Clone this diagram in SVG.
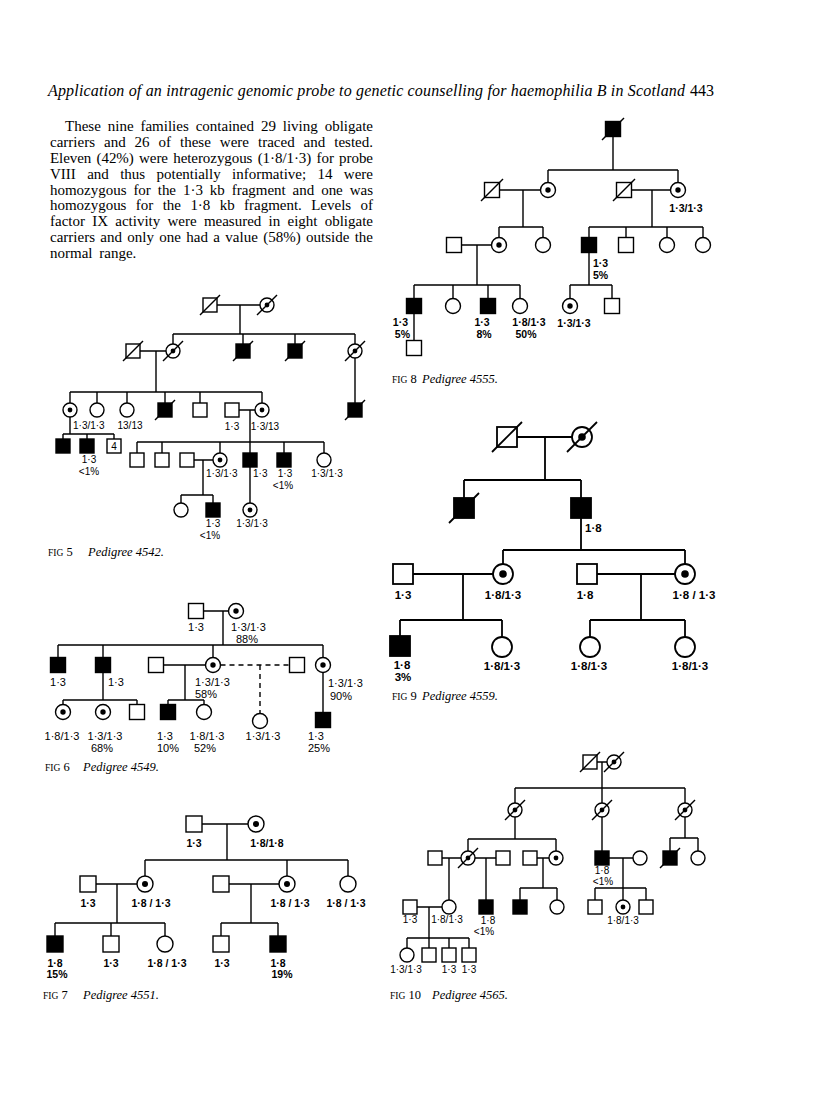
<svg xmlns="http://www.w3.org/2000/svg" width="816" height="1110" viewBox="0 0 816 1110">
<defs>
<style>
.l{stroke:#000;stroke-width:1.4;fill:none}
.l2{stroke:#000;stroke-width:1.8;fill:none}
.d{stroke-dasharray:5 4}
.o{fill:#fff;stroke:#000;stroke-width:1.4}
.f{fill:#000;stroke:#000;stroke-width:1.4}
.o2{fill:#fff;stroke:#000;stroke-width:1.8}
.f2{fill:#000;stroke:#000;stroke-width:1.8}
.k{fill:#000}
.a{font-family:"Liberation Sans",Arial,sans-serif;font-size:10px;fill:#000}
.b{font-family:"Liberation Sans",Arial,sans-serif;font-size:11px;fill:#000}
.c{font-family:"Liberation Sans",Arial,sans-serif;font-size:10.5px;font-weight:bold;fill:#000}
.c9{font-family:"Liberation Sans",Arial,sans-serif;font-size:11.5px;font-weight:bold;fill:#000}
.m{text-anchor:middle}
.e{text-anchor:end}
.body{font-family:"Liberation Serif","Times New Roman",serif;font-size:15px;fill:#000}
.hd{font-family:"Liberation Serif","Times New Roman",serif;font-size:16px;fill:#000}
.it{font-style:italic}
.cap{font-family:"Liberation Serif","Times New Roman",serif;font-size:12.5px;fill:#000}
.sc{font-size:9.5px}
</style>
<rect id="q7" x="-7" y="-7" width="14" height="14" class="o"/>
<rect id="Q7" x="-7" y="-7" width="14" height="14" class="f"/>
<circle id="c7" r="7" class="o"/>
<g id="k7"><circle r="7" class="o"/><circle r="2.4" class="k"/></g>
<line id="x7" x1="-10" y1="10" x2="10" y2="-10" class="l"/>
<rect id="q75" x="-7.5" y="-7.5" width="15" height="15" class="o"/>
<rect id="Q75" x="-7.5" y="-7.5" width="15" height="15" class="f"/>
<circle id="c75" r="7.5" class="o"/>
<g id="k75"><circle r="7.5" class="o"/><circle r="2.7" class="k"/></g>
<line id="x75" x1="-11" y1="11" x2="11" y2="-11" class="l"/>
<rect id="q8" x="-8" y="-8" width="16" height="16" class="o"/>
<rect id="Q8" x="-8" y="-8" width="16" height="16" class="f"/>
<circle id="c8" r="8" class="o"/>
<g id="k8"><circle r="8" class="o"/><circle r="3" class="k"/></g>
<rect id="q10" x="-10" y="-10" width="20" height="20" class="o2"/>
<rect id="Q10" x="-10" y="-10" width="20" height="20" class="f2"/>
<circle id="c10" r="10" class="o2"/>
<g id="k10"><circle r="10" class="o2"/><circle r="3.8" class="k"/></g>
<line id="x10" x1="-15" y1="15" x2="15" y2="-15" class="l2"/>
</defs>
<rect width="816" height="1110" fill="#fff"/>

<g id="header">
<text class="hd it" x="48" y="96" textLength="637" lengthAdjust="spacing">Application of an intragenic genomic probe to genetic counselling for haemophilia B in Scotland</text>
<text class="hd" x="690" y="96">443</text>
</g>

<g id="body-text" class="body">
<text x="65" y="131" word-spacing="3.1" textLength="308" lengthAdjust="spacing">These nine families contained 29 living obligate</text>
<text x="50" y="147" word-spacing="5.2" textLength="323" lengthAdjust="spacing">carriers and 26 of these were traced and tested.</text>
<text x="50" y="163" word-spacing="1.6" textLength="323" lengthAdjust="spacing">Eleven (42%) were heterozygous (1·8/1·3) for probe</text>
<text x="50" y="179" word-spacing="7.6" textLength="323" lengthAdjust="spacing">VIII and thus potentially informative; 14 were</text>
<text x="50" y="194.5" word-spacing="3.2" textLength="323" lengthAdjust="spacing">homozygous for the 1·3 kb fragment and one was</text>
<text x="50" y="210" word-spacing="5.7" textLength="323" lengthAdjust="spacing">homozygous for the 1·8 kb fragment. Levels of</text>
<text x="50" y="226" word-spacing="3.5" textLength="323" lengthAdjust="spacing">factor IX activity were measured in eight obligate</text>
<text x="50" y="242" word-spacing="1.6" textLength="323" lengthAdjust="spacing">carriers and only one had a value (58%) outside the</text>
<text x="50" y="258" word-spacing="3">normal range.</text>
</g>

<!-- FIG 5 -->
<g id="fig5">
<g id="fig5-links">
<path class="l" d="M217,305H260 M240,305V334 M173,334H355 M173,334V344 M243,334V344 M295,334V344 M355,334V344 M140,351H166 M156,351V392 M70,392H262 M70,392V403 M97,392V403 M127,392V403 M165,392V403 M200,392V403 M262,392V403 M355,358V403 M70,417V434 M63,434H114 M63,434V439 M87,434V439 M114,434V439 M239,410H255 M250,410V453 M137,442H324 M137,442V453 M162,442V453 M220,442V453 M284,442V453 M324,442V453 M194,460H213 M203,460V495 M181,495H213 M181,495V503 M213,495V503 M250,467V503"/>
</g>
<g id="f5-n1"><use href="#q7" x="210" y="305"/><use href="#x7" x="210" y="305"/></g>
<g id="f5-n2"><use href="#k7" x="267" y="305"/><use href="#x7" x="267" y="305"/></g>
<g id="f5-n3"><use href="#q7" x="133" y="351"/><use href="#x7" x="133" y="351"/></g>
<g id="f5-n4"><use href="#k7" x="173" y="351"/><use href="#x7" x="173" y="351"/></g>
<g id="f5-n5"><use href="#Q7" x="243" y="351"/><use href="#x7" x="243" y="351"/></g>
<g id="f5-n6"><use href="#Q7" x="295" y="351"/><use href="#x7" x="295" y="351"/></g>
<g id="f5-n7"><use href="#k7" x="355" y="351"/><use href="#x7" x="355" y="351"/></g>
<g id="f5-n8"><use href="#k7" x="70" y="410"/><text class="a" x="73" y="429">1·3/1·3</text></g>
<g id="f5-n9"><use href="#c7" x="97" y="410"/></g>
<g id="f5-n10"><use href="#c7" x="127" y="410"/><text class="a m" x="130" y="429">13/13</text></g>
<g id="f5-n11"><use href="#Q7" x="165" y="410"/><use href="#x7" x="165" y="410"/></g>
<g id="f5-n12"><use href="#q7" x="200" y="410"/></g>
<g id="f5-n13"><use href="#q7" x="232" y="410"/><text class="a m" x="232" y="430">1·3</text></g>
<g id="f5-n14"><use href="#k7" x="262" y="410"/><text class="a m" x="265" y="430">1·3/13</text></g>
<g id="f5-n15"><use href="#Q7" x="355" y="410"/><use href="#x7" x="355" y="410"/></g>
<g id="f5-n16"><use href="#Q7" x="63" y="446"/></g>
<g id="f5-n17"><use href="#Q7" x="87" y="446"/><text class="a m" x="89" y="463">1·3</text><text class="a m" x="89" y="475">&lt;1%</text></g>
<g id="f5-n18"><use href="#q7" x="114" y="446"/><text class="a m" x="114" y="449.5" font-size="9">4</text></g>
<g id="f5-n19"><use href="#q7" x="137" y="460"/></g>
<g id="f5-n20"><use href="#q7" x="162" y="460"/></g>
<g id="f5-n21"><use href="#q7" x="187" y="460"/></g>
<g id="f5-n22"><use href="#k7" x="220" y="460"/><text class="a" x="206" y="477">1·3/1·3</text></g>
<g id="f5-n23"><use href="#Q7" x="250" y="460"/><text class="a" x="253" y="477">1·3</text></g>
<g id="f5-n24"><use href="#Q7" x="284" y="460"/><text class="a m" x="285" y="477">1·3</text><text class="a m" x="283" y="489">&lt;1%</text></g>
<g id="f5-n25"><use href="#c7" x="324" y="460"/><text class="a m" x="327" y="477">1·3/1·3</text></g>
<g id="f5-n26"><use href="#c7" x="181" y="510"/></g>
<g id="f5-n27"><use href="#Q7" x="213" y="510"/><text class="a m" x="213" y="527">1·3</text><text class="a m" x="210" y="539">&lt;1%</text></g>
<g id="f5-n28"><use href="#k7" x="250" y="510"/><text class="a m" x="252" y="527">1·3/1·3</text></g>
<g id="f5-caption"><text class="cap" x="48" y="556"><tspan class="sc">FIG</tspan> 5</text><text class="cap it" x="88" y="556">Pedigree 4542.</text></g>
</g>

<!-- FIG 6 -->
<g id="fig6">
<g id="fig6-links">
<path class="l" d="M203.5,611H228.5 M223,611V645 M58,645H323 M58,645V657.5 M103,645V657.5 M213,645V657.5 M323,645V657.5 M103,672.5V700 M63,700H137 M63,700V704.5 M137,700V704.5 M163.5,665H205.5 M185,665V700 M168,700H204 M168,700V704.5 M204,700V704.5 M323,672.5V712.5"/>
<path class="l d" d="M220.5,665H289.5 M260,665V713.5"/>
</g>
<g id="f6-n1"><use href="#q75" x="196" y="611"/><text class="b m" x="196" y="631">1·3</text></g>
<g id="f6-n2"><use href="#k75" x="236" y="611"/><text class="b" x="231" y="631">1·3/1·3</text><text class="b" x="236" y="643">88%</text></g>
<g id="f6-n3"><use href="#Q75" x="58" y="665"/><text class="b m" x="58" y="686">1·3</text></g>
<g id="f6-n4"><use href="#Q75" x="103" y="665"/><text class="b" x="108" y="686">1·3</text></g>
<g id="f6-n5"><use href="#q75" x="156" y="665"/></g>
<g id="f6-n6"><use href="#k75" x="213" y="665"/><text class="b" x="195" y="686">1·3/1·3</text><text class="b" x="195" y="698">58%</text></g>
<g id="f6-n7"><use href="#q75" x="297" y="665"/></g>
<g id="f6-n8"><use href="#k75" x="323" y="665"/><text class="b" x="328" y="687">1·3/1·3</text><text class="b" x="330" y="700">90%</text></g>
<g id="f6-n9"><use href="#k75" x="63" y="712"/><text class="b m" x="62" y="740">1·8/1·3</text></g>
<g id="f6-n10"><use href="#k75" x="103" y="712"/><text class="b m" x="105" y="740">1·3/1·3</text><text class="b m" x="102" y="752">68%</text></g>
<g id="f6-n11"><use href="#q75" x="137" y="712"/></g>
<g id="f6-n12"><use href="#Q75" x="168" y="712"/><text class="b" x="157" y="740">1·3</text><text class="b" x="157" y="752">10%</text></g>
<g id="f6-n13"><use href="#c75" x="204" y="712"/><text class="b m" x="207" y="740">1·8/1·3</text><text class="b m" x="205" y="752">52%</text></g>
<g id="f6-n14"><use href="#c75" x="260" y="721"/><text class="b m" x="263" y="740">1·3/1·3</text></g>
<g id="f6-n15"><use href="#Q75" x="323" y="720"/><text class="b" x="308" y="740">1·3</text><text class="b" x="308" y="752">25%</text></g>
<g id="f6-caption"><text class="cap" x="45" y="771"><tspan class="sc">FIG</tspan> 6</text><text class="cap it" x="83" y="771">Pedigree 4549.</text></g>
</g>

<!-- FIG 7 -->
<g id="fig7">
<g id="fig7-links">
<path class="l" d="M202,824H248 M227,824V860 M145,860H348 M145,860V876 M287,860V876 M348,860V876 M96,884H137 M117,884V923 M55,923H165 M55,923V936 M111,923V936 M165,923V936 M229,884H279 M251,884V923 M221,923H278 M221,923V936 M278,923V936"/>
</g>
<g id="f7-n1"><use href="#q8" x="194" y="824"/><text class="c m" x="194" y="847">1·3</text></g>
<g id="f7-n2"><use href="#k8" x="256" y="824"/><text class="c m" x="267" y="847">1·8/1·8</text></g>
<g id="f7-n3"><use href="#q8" x="88" y="884"/><text class="c m" x="88" y="907">1·3</text></g>
<g id="f7-n4"><use href="#k8" x="145" y="884"/><text class="c m" x="151" y="907">1·8 / 1·3</text></g>
<g id="f7-n5"><use href="#q8" x="221" y="884"/></g>
<g id="f7-n6"><use href="#k8" x="287" y="884"/><text class="c m" x="290" y="907">1·8 / 1·3</text></g>
<g id="f7-n7"><use href="#c8" x="348" y="884"/><text class="c m" x="346" y="907">1·8 / 1·3</text></g>
<g id="f7-n8"><use href="#Q8" x="55" y="944"/><text class="c m" x="55" y="967">1·8</text><text class="c m" x="57" y="978">15%</text></g>
<g id="f7-n9"><use href="#q8" x="111" y="944"/><text class="c m" x="111" y="967">1·3</text></g>
<g id="f7-n10"><use href="#c8" x="165" y="944"/><text class="c m" x="167" y="967">1·8 / 1·3</text></g>
<g id="f7-n11"><use href="#q8" x="221" y="944"/><text class="c m" x="222" y="967">1·3</text></g>
<g id="f7-n12"><use href="#Q8" x="278" y="944"/><text class="c m" x="278" y="967">1·8</text><text class="c m" x="282" y="978">19%</text></g>
<g id="f7-caption"><text class="cap" x="43" y="999"><tspan class="sc">FIG</tspan> 7</text><text class="cap it" x="83" y="999">Pedigree 4551.</text></g>
</g>

<!-- FIG 8 -->
<g id="fig8">
<g id="fig8-links">
<path class="l" d="M613,136.5V170 M548,170H678 M548,170V182.5 M678,170V182.5 M499.5,190H540.5 M523,190V227 M499,227H543 M499,227V237.5 M543,227V237.5 M631.5,190H670.5 M652,190V227 M589,227H703 M589,227V237.5 M626,227V237.5 M667,227V237.5 M703,227V237.5 M461.5,245H491.5 M477,245V285 M414,285H520 M414,285V298.5 M453,285V298.5 M488,285V298.5 M520,285V298.5 M589,252.5V285 M570,285H612 M570,285V298.5 M612,285V298.5 M414,313.5V340.5"/>
</g>
<g id="f8-n1"><use href="#Q75" x="613" y="129"/><use href="#x75" x="613" y="129"/></g>
<g id="f8-n2"><use href="#q75" x="492" y="190"/><use href="#x75" x="492" y="190"/></g>
<g id="f8-n3"><use href="#k75" x="548" y="190"/></g>
<g id="f8-n4"><use href="#q75" x="624" y="190"/><use href="#x75" x="624" y="190"/></g>
<g id="f8-n5"><use href="#k75" x="678" y="190"/><text class="c m" x="686" y="212">1·3/1·3</text></g>
<g id="f8-n6"><use href="#q75" x="454" y="245"/></g>
<g id="f8-n7"><use href="#k75" x="499" y="245"/></g>
<g id="f8-n8"><use href="#c75" x="543" y="245"/></g>
<g id="f8-n9"><use href="#Q75" x="589" y="245"/><text class="c" x="593" y="267">1·3</text><text class="c" x="593" y="279">5%</text></g>
<g id="f8-n10"><use href="#q75" x="626" y="245"/></g>
<g id="f8-n11"><use href="#c75" x="667" y="245"/></g>
<g id="f8-n12"><use href="#c75" x="703" y="245"/></g>
<g id="f8-n13"><use href="#Q75" x="414" y="306"/><text class="c e" x="408" y="326">1·3</text><text class="c e" x="410" y="338">5%</text></g>
<g id="f8-n14"><use href="#c75" x="453" y="306"/></g>
<g id="f8-n15"><use href="#Q75" x="488" y="306"/><text class="c m" x="482" y="326">1·3</text><text class="c m" x="484" y="338">8%</text></g>
<g id="f8-n16"><use href="#c75" x="520" y="306"/><text class="c m" x="529" y="326">1·8/1·3</text><text class="c m" x="526" y="338">50%</text></g>
<g id="f8-n17"><use href="#k75" x="570" y="306"/><text class="c m" x="574" y="327">1·3/1·3</text></g>
<g id="f8-n18"><use href="#q75" x="612" y="306"/></g>
<g id="f8-n19"><use href="#q75" x="414" y="348"/></g>
<g id="f8-caption"><text class="cap" x="392" y="383"><tspan class="sc">FIG</tspan> 8</text><text class="cap it" x="422" y="383">Pedigree 4555.</text></g>
</g>

<!-- FIG 9 -->
<g id="fig9">
<g id="fig9-links">
<path class="l2" d="M517,437H572 M545,437V480 M464,480H581 M464,480V498 M581,480V498 M581,518V550 M503,550H685 M503,550V564 M685,550V564 M413,574H493 M463,574V620 M400,620H502 M400,620V636 M502,620V637 M597,574H675 M641,574V620 M590,620H685 M590,620V637 M685,620V637"/>
</g>
<g id="f9-n1"><use href="#q10" x="507" y="437"/><use href="#x10" x="507" y="437"/></g>
<g id="f9-n2"><use href="#k10" x="582" y="437"/><use href="#x10" x="582" y="437"/></g>
<g id="f9-n3"><use href="#Q10" x="464" y="508"/><use href="#x10" x="464" y="508"/></g>
<g id="f9-n4"><use href="#Q10" x="581" y="508"/><text class="c9" x="585" y="532">1·8</text></g>
<g id="f9-n5"><use href="#q10" x="403" y="574"/><text class="c9 m" x="403" y="599">1·3</text></g>
<g id="f9-n6"><use href="#k10" x="503" y="574"/><text class="c9 m" x="503" y="599">1·8/1·3</text></g>
<g id="f9-n7"><use href="#q10" x="587" y="574"/><text class="c9 m" x="585" y="599">1·8</text></g>
<g id="f9-n8"><use href="#k10" x="685" y="574"/><text class="c9 m" x="694" y="599">1·8 / 1·3</text></g>
<g id="f9-n9"><use href="#Q10" x="400" y="646"/><text class="c9 m" x="402" y="669">1·8</text><text class="c9 m" x="403" y="681">3%</text></g>
<g id="f9-n10"><use href="#c10" x="502" y="647"/><text class="c9 m" x="502" y="670">1·8/1·3</text></g>
<g id="f9-n11"><use href="#c10" x="590" y="647"/><text class="c9 m" x="589" y="670">1·8/1·3</text></g>
<g id="f9-n12"><use href="#c10" x="685" y="647"/><text class="c9 m" x="690" y="670">1·8/1·3</text></g>
<g id="f9-caption"><text class="cap" x="392" y="700"><tspan class="sc">FIG</tspan> 9</text><text class="cap it" x="422" y="700">Pedigree 4559.</text></g>
</g>

<!-- FIG 10 -->
<g id="fig10">
<g id="fig10-links">
<path class="l" d="M597,762H607 M602,762V788 M515,788H685 M515,788V803 M602,788V803 M685,788V803 M515,817V839 M468,839H556 M468,839V851 M556,839V851 M442,858H461 M449,858V900 M475,858H496 M486,858V900 M537,858H549 M543,858V888 M520,888H557 M520,888V900 M557,888V900 M602,817V851 M609,858H633 M623,858V888 M595,888H646 M595,888V900 M623,888V900 M646,888V900 M685,817V838 M670,838H698 M670,838V851 M698,838V851 M417,907H442 M429,907V938 M407,938H469 M407,938V948 M429,938V948 M449,938V948 M469,938V948"/>
</g>
<g id="f10-n1"><use href="#q7" x="590" y="762"/><use href="#x7" x="590" y="762"/></g>
<g id="f10-n2"><use href="#k7" x="614" y="762"/><use href="#x7" x="614" y="762"/></g>
<g id="f10-n3"><use href="#k7" x="515" y="810"/><use href="#x7" x="515" y="810"/></g>
<g id="f10-n4"><use href="#k7" x="602" y="810"/><use href="#x7" x="602" y="810"/></g>
<g id="f10-n5"><use href="#k7" x="685" y="810"/><use href="#x7" x="685" y="810"/></g>
<g id="f10-n6"><use href="#q7" x="435" y="858"/></g>
<g id="f10-n7"><use href="#k7" x="468" y="858"/><use href="#x7" x="468" y="858"/></g>
<g id="f10-n8"><use href="#q7" x="503" y="858"/></g>
<g id="f10-n9"><use href="#q7" x="530" y="858"/></g>
<g id="f10-n10"><use href="#k7" x="556" y="858"/></g>
<g id="f10-n11"><use href="#Q7" x="602" y="858"/><text class="a m" x="602" y="874">1·8</text><text class="a m" x="603" y="885">&lt;1%</text></g>
<g id="f10-n12"><use href="#c7" x="640" y="858"/></g>
<g id="f10-n13"><use href="#Q7" x="670" y="858"/><use href="#x7" x="670" y="858"/></g>
<g id="f10-n14"><use href="#c7" x="698" y="858"/></g>
<g id="f10-n15"><use href="#q7" x="410" y="907"/><text class="a m" x="410" y="923">1·3</text></g>
<g id="f10-n16"><use href="#c7" x="449" y="907"/><text class="a m" x="447" y="923">1·8/1·3</text></g>
<g id="f10-n17"><use href="#Q7" x="486" y="907"/><text class="a m" x="488" y="924">1·8</text><text class="a m" x="484" y="935">&lt;1%</text></g>
<g id="f10-n18"><use href="#Q7" x="520" y="907"/></g>
<g id="f10-n19"><use href="#c7" x="557" y="907"/></g>
<g id="f10-n20"><use href="#q7" x="595" y="907"/></g>
<g id="f10-n21"><use href="#k7" x="623" y="907"/><text class="a m" x="623" y="924">1·8/1·3</text></g>
<g id="f10-n22"><use href="#q7" x="646" y="907"/></g>
<g id="f10-n23"><use href="#c7" x="407" y="955"/><text class="a m" x="406" y="973">1·3/1·3</text></g>
<g id="f10-n24"><use href="#q7" x="429" y="955"/></g>
<g id="f10-n25"><use href="#q7" x="449" y="955"/><text class="a m" x="449" y="973">1·3</text></g>
<g id="f10-n26"><use href="#q7" x="469" y="955"/><text class="a m" x="469" y="973">1·3</text></g>
<g id="f10-caption"><text class="cap" x="390" y="999"><tspan class="sc">FIG</tspan> 10</text><text class="cap it" x="432" y="999">Pedigree 4565.</text></g>
</g>
</svg>
